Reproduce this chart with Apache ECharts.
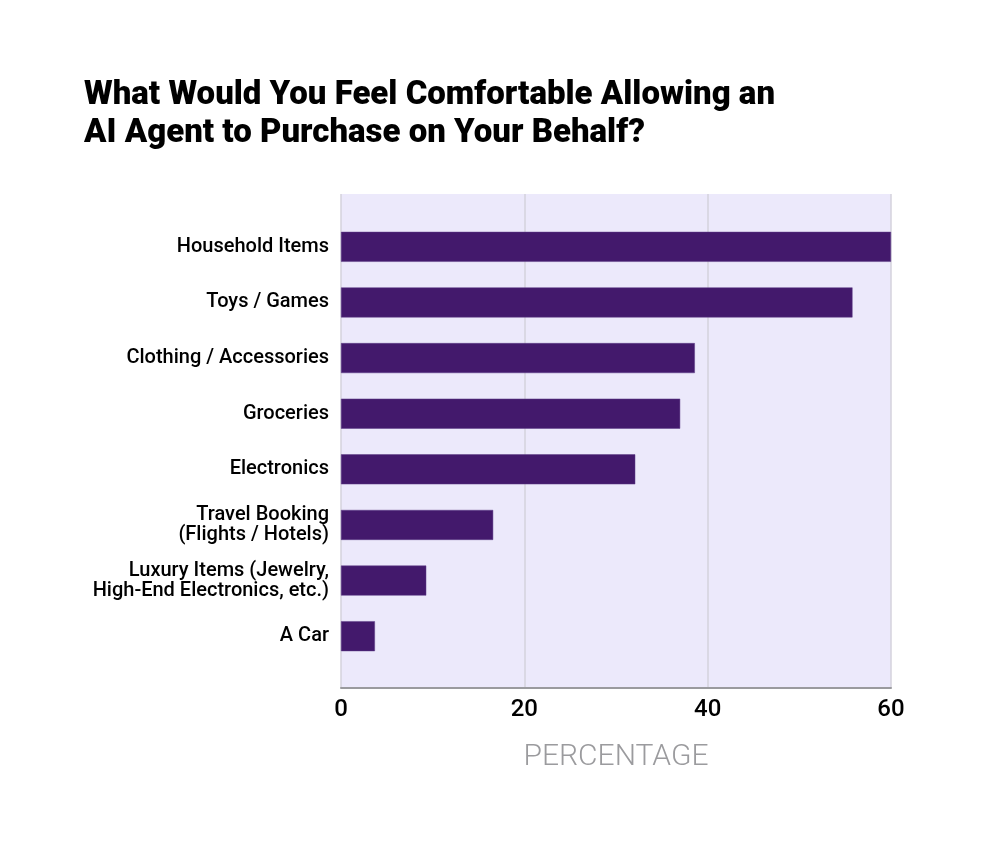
<!DOCTYPE html>
<html><head><meta charset="utf-8">
<script src="https://cdn.jsdelivr.net/npm/echarts@6/dist/echarts.min.js"></script>
<style>html,body{margin:0;padding:0;background:#fff}#c{width:1000px;height:844px}</style>
</head><body><div id="c"></div>
<script>
const titleText = 'What Would You Feel Comfortable Allowing an\nAI Agent to Purchase on Your Behalf?';
const categories = ['Household Items','Toys / Games','Clothing / Accessories','Groceries','Electronics','Travel Booking\n(Flights / Hotels)','Luxury Items (Jewelry,\nHigh-End Electronics, etc.)','A Car'];
const values = [60, 55.8, 38.6, 37.0, 32.1, 16.6, 9.3, 3.7];
const xTicks = [0, 20, 40, 60];
const axisName = 'PERCENTAGE';

const chart = echarts.init(document.getElementById('c'), null, {renderer:'canvas'});
const FONT = 'Roboto';
chart.setOption({
  backgroundColor: '#ffffff',
  animation: false,
  title: {
    text: titleText, left: 79, top: 72,
    textStyle: {fontFamily: FONT, fontWeight: 900, fontSize: 33, lineHeight: 38, color: '#000'}
  },
  grid: [
    {left: 341, right: 109, top: 194, bottom: 156, show: true, backgroundColor: '#ece9fb', borderWidth: 0},
    {left: 341, right: 109, top: 219, bottom: 180}
  ],
  xAxis: [
    {gridIndex: 0, type: 'value', min: xTicks[0], max: xTicks[xTicks.length-1], interval: 20,
     axisLine: {show: true, lineStyle: {color: '#9a9a9e', width: 2}},
     axisTick: {show: false},
     splitLine: {show: true, lineStyle: {color: '#d4d2dc', width: 1.5}},
     axisLabel: {color: '#000', fontFamily: FONT, fontWeight: 500, fontSize: 24, margin: 10},
     name: axisName, nameLocation: 'middle', nameGap: 54,
     nameTextStyle: {color: '#9b9b9e', fontFamily: FONT, fontWeight: 300, fontSize: 30}
    },
    {gridIndex: 1, type: 'value', min: xTicks[0], max: xTicks[xTicks.length-1], show: false}
  ],
  yAxis: [
    {gridIndex: 0, type: 'category', data: categories, show: false},
    {gridIndex: 1, type: 'category', data: categories, inverse: true,
     axisLine: {show: false}, axisTick: {show: false},
     axisLabel: {color: '#000', fontFamily: FONT, fontWeight: 500, fontSize: 20, lineHeight: 20, margin: 12, align: 'right'}
    }
  ],
  series: [{
    type: 'bar', xAxisIndex: 1, yAxisIndex: 1, data: values,
    barWidth: 30,
    itemStyle: {color: '#43196c', borderColor: '#5c3d87', borderWidth: 0.5}
  }]
});
</script></body></html>
